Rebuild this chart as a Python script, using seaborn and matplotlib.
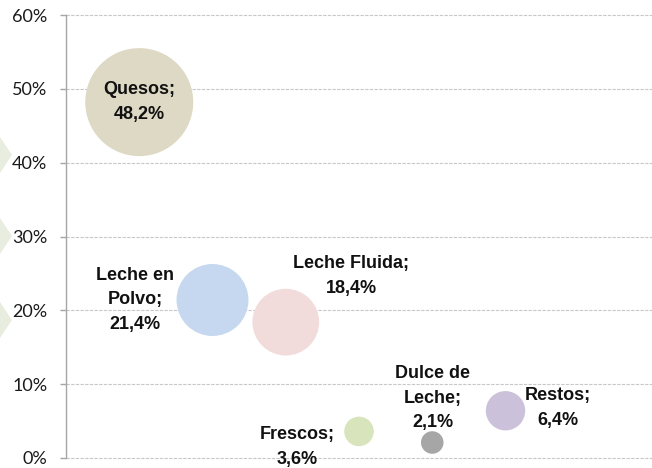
import numpy as np
import pandas as pd
import matplotlib
matplotlib.use("Agg")
import matplotlib.pyplot as plt
import seaborn as sns
from matplotlib.patches import Polygon

# data
productos = ["Quesos", "Leche en Polvo", "Leche Fluida", "Frescos", "Dulce de Leche", "Restos"]
share = [48.2, 21.4, 18.4, 3.6, 2.1, 6.4]
etiquetas = ["Quesos;\n48,2%", "Leche en\nPolvo;\n21,4%", "Leche Fluida;\n18,4%",
             "Frescos;\n3,6%", "Dulce de\nLeche;\n2,1%", "Restos;\n6,4%"]
colores = ["#DDD9C4", "#C6D8F0", "#F2DCDB", "#D8E4BC", "#A6A6A6", "#CCC1DA"]
y_ticks = [0, 10, 20, 30, 40, 50, 60]

df = pd.DataFrame({"producto": productos, "share": share})
df["x"] = np.arange(1, len(df) + 1)

# label offsets (data units) relative to bubble centre
label_off = {
    "Quesos": (0.0, 0.0),
    "Leche en Polvo": (-1.06, 0.0),
    "Leche Fluida": (0.89, 6.3),
    "Frescos": (-0.84, -2.1),
    "Dulce de Leche": (0.01, 6.0),
    "Restos": (0.71, 0.4),
}

sns.set_theme(style="white")
plt.rcParams["font.family"] = ["Lato", "DejaVu Sans"]

fig = plt.figure(figsize=(6.52, 4.68), dpi=100)
ax = fig.add_axes([66 / 652, 10 / 468, 1 - 66 / 652, 443 / 468])

# bubble area proportional to share
scale = 125.5
sizes = {p: v * scale for p, v in zip(productos, share)}
sns.scatterplot(data=df, x="x", y="share", hue="producto", palette=dict(zip(productos, colores)),
                size="producto", sizes=sizes, legend=False, edgecolor="none", alpha=1,
                ax=ax, zorder=3)

for p, v, x, lab in zip(productos, share, df["x"], etiquetas):
    dx, dy = label_off[p]
    ax.text(x + dx, v + dy, lab, ha="center", va="center", fontsize=13, fontweight="bold",
            family=["Liberation Sans", "DejaVu Sans"], color="#111111",
            linespacing=1.6, zorder=4)

ax.set_xlim(0, 8)
ax.set_ylim(0, 60)
ax.set_yticks(y_ticks)
ax.set_yticklabels([f"{t}%" for t in y_ticks])
ax.set_xticks([])
ax.set_xlabel("")
ax.set_ylabel("")
for t in y_ticks:
    ax.axhline(t, color="#C8C8C8", lw=0.8, ls=(0, (3, 1.2)), zorder=1, clip_on=False)
for s in ["top", "right", "bottom"]:
    ax.spines[s].set_visible(False)
ax.spines["left"].set_color("#A6A6A6")
ax.spines["left"].set_linewidth(1.0)
ax.tick_params(axis="y", left=True, length=4.5, width=1.0, color="#A6A6A6",
               pad=9, labelsize=13, labelcolor="#1a1a1a")

# partial diamond shapes cut off at the left edge
for yc in [155, 236, 320]:
    pts = [(-12, yc), (0, yc - 18), (12, yc), (0, yc + 18)]
    pts = [(px / 652, 1 - py / 468) for px, py in pts]
    fig.patches.append(Polygon(pts, closed=True, transform=fig.transFigure,
                               facecolor="#E9EDDF", edgecolor="none"))

fig.savefig("out.png", dpi=100)
